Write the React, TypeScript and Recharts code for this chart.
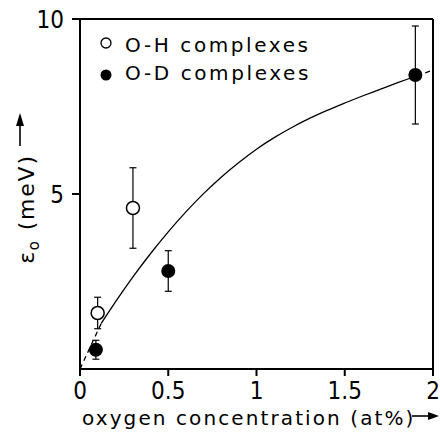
import React from 'react';
import { ComposedChart, Line, Scatter, XAxis, YAxis, ErrorBar, Customized } from 'recharts';

// O-H complexes (open circles)
const ohConc = [0.1, 0.3];
const ohEnergy = [1.6, 4.6];
const ohError = [0.45, 1.15];

// O-D complexes (filled circles)
const odConc = [0.09, 0.5, 1.9];
const odEnergy = [0.55, 2.8, 8.4];
const odError = [0.27, 0.58, 1.4];

// guide curve
const fitConc = [0.12, 0.2, 0.3, 0.4, 0.5, 0.6, 0.7, 0.8, 0.9, 1.0, 1.1, 1.2, 1.3, 1.4, 1.5, 1.6, 1.7, 1.8, 1.86];
const fitEnergy = [1.3, 1.91, 2.63, 3.3, 3.92, 4.49, 5.01, 5.48, 5.9, 6.28, 6.61, 6.9, 7.16, 7.39, 7.6, 7.8, 7.99, 8.18, 8.29];
const lowDashConc = [0, 0.06, 0.12];
const lowDashEnergy = [0, 0.65, 1.3];
const highDashConc = [1.86, 2.0];
const highDashEnergy = [8.29, 8.54];

const xTicks = [0, 0.5, 1, 1.5, 2];
const yTicks = [5, 10];

const ohData = ohConc.map((x, i) => ({ x, y: ohEnergy[i], err: ohError[i] }));
const odData = odConc.map((x, i) => ({ x, y: odEnergy[i], err: odError[i] }));
const fitData = fitConc.map((x, i) => ({ x, y: fitEnergy[i] }));
const lowDash = lowDashConc.map((x, i) => ({ x, y: lowDashEnergy[i] }));
const highDash = highDashConc.map((x, i) => ({ x, y: highDashEnergy[i] }));

const numFont = "'Liberation Sans Narrow', 'DejaVu Sans Condensed', sans-serif";
const textFont = "'DejaVu Sans', sans-serif";

const OpenDot = (p: any) => (
  <circle cx={p.cx} cy={p.cy} r={6.5} fill="#fff" stroke="#000" strokeWidth={1.5} />
);
const FilledDot = (p: any) => <circle cx={p.cx} cy={p.cy} r={7} fill="#000" />;

const Labels = () => (
  <g>
    <circle cx={106} cy={43} r={5} fill="#fff" stroke="#000" strokeWidth={1.3} />
    <text x={125} y={51.5} fill="#000" fontFamily={textFont} fontSize={20} letterSpacing={2.6}>
      O-H complexes
    </text>
    <circle cx={106} cy={75} r={5.5} fill="#000" />
    <text x={125} y={80} fill="#000" fontFamily={textFont} fontSize={20} letterSpacing={2.6}>
      O-D complexes
    </text>
    <text x={82} y={425} fill="#000" fontFamily={textFont} fontSize={20} letterSpacing={2.1}>
      oxygen concentration (at%)
    </text>
    {/* x label arrow */}
    <line x1={412} y1={416} x2={430} y2={416} stroke="#000" strokeWidth={1.6} />
    <path d="M439,416 L428,412 L428,420 Z" fill="#000" />
    <text
      x={0}
      y={0}
      transform="translate(34,209) rotate(-90)"
      textAnchor="middle"
      fill="#000"
      fontFamily={textFont}
      fontSize={22}
      letterSpacing={1.8}
    >
      ε<tspan fontSize={15} dy={5}>o</tspan>
      <tspan dy={-5}> (meV)</tspan>
    </text>
    {/* y label arrow */}
    <line x1={20} y1={146} x2={20} y2={124} stroke="#000" strokeWidth={1.6} />
    <path d="M20,113 L16,126 L24,126 Z" fill="#000" />
  </g>
);

export default function App() {
  return (
    <div style={{ position: 'absolute', left: 0, top: 0, background: '#fff' }}>
      <ComposedChart width={440} height={434} margin={{ top: 0, right: 0, bottom: 0, left: 0 }}>
        <XAxis
          xAxisId="bottom"
          dataKey="x"
          type="number"
          domain={[0, 2]}
          ticks={xTicks}
          height={65}
          stroke="#000"
          strokeWidth={2}
          tickSize={7}
          tickMargin={6}
          tick={{ fill: '#000', fontSize: 24, fontFamily: numFont }}
          allowDataOverflow
        />
        <XAxis
          xAxisId="top"
          orientation="top"
          type="number"
          domain={[0, 2]}
          height={19}
          stroke="#000"
          strokeWidth={2}
          tick={false}
          tickLine={false}
        />
        <YAxis
          yAxisId="left"
          type="number"
          domain={[0, 10]}
          ticks={yTicks}
          width={80}
          stroke="#000"
          strokeWidth={2}
          tickSize={8}
          tickMargin={8}
          tick={{ fill: '#000', fontSize: 24, fontFamily: numFont }}
          allowDataOverflow
        />
        <YAxis
          yAxisId="right"
          orientation="right"
          type="number"
          domain={[0, 10]}
          ticks={[5]}
          width={7}
          stroke="#000"
          strokeWidth={2}
          tickSize={6}
          tick={false}
        />
        <Line
          xAxisId="bottom"
          yAxisId="left"
          data={fitData}
          dataKey="y"
          type="monotone"
          stroke="#000"
          strokeWidth={1.3}
          dot={false}
          isAnimationActive={false}
        />
        <Line
          xAxisId="bottom"
          yAxisId="left"
          data={lowDash}
          dataKey="y"
          type="linear"
          stroke="#000"
          strokeWidth={1.3}
          strokeDasharray="5 4"
          dot={false}
          isAnimationActive={false}
        />
        <Line
          xAxisId="bottom"
          yAxisId="left"
          data={highDash}
          dataKey="y"
          type="linear"
          stroke="#000"
          strokeWidth={1.3}
          strokeDasharray="5 4"
          dot={false}
          isAnimationActive={false}
        />
        <Scatter
          xAxisId="bottom"
          yAxisId="left"
          data={ohData}
          dataKey="y"
          shape={OpenDot}
          isAnimationActive={false}
        >
          <ErrorBar dataKey="err" direction="y" width={3.5} stroke="#000" strokeWidth={1.2} />
        </Scatter>
        <Scatter
          xAxisId="bottom"
          yAxisId="left"
          data={odData}
          dataKey="y"
          shape={FilledDot}
          isAnimationActive={false}
        >
          <ErrorBar dataKey="err" direction="y" width={3.5} stroke="#000" strokeWidth={1.2} />
        </Scatter>
        <Customized component={Labels} />
      </ComposedChart>
    </div>
  );
}
